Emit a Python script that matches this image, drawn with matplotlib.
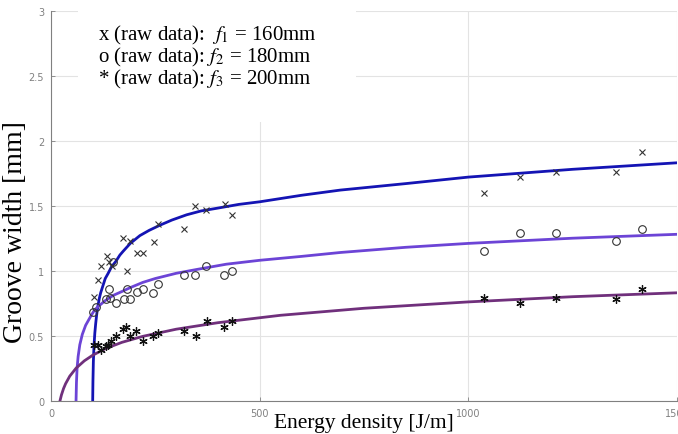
import matplotlib
matplotlib.use("Agg")
import matplotlib.pyplot as plt
from matplotlib.patches import Rectangle

plt.rcParams['mathtext.fontset'] = 'stix'

# raw data, f1 = 160mm (x markers)
x_energy = [104, 112, 121, 133, 140, 147, 173, 181, 189, 205, 220, 247, 257, 319, 345, 371, 417, 434,
            1038, 1124, 1209, 1354, 1415]
x_width = [0.80, 0.93, 1.04, 1.11, 1.07, 1.04, 1.25, 1.00, 1.23, 1.14, 1.14, 1.22, 1.36, 1.32, 1.50, 1.47, 1.51, 1.43,
           1.60, 1.72, 1.76, 1.76, 1.91]

# raw data, f2 = 180mm (o markers)
o_energy = [101, 109, 132, 140, 141, 149, 156, 175, 181, 189, 205, 220, 245, 257, 319, 345, 371, 415, 434,
            1038, 1124, 1209, 1354, 1415]
o_width = [0.68, 0.72, 0.78, 0.86, 0.79, 1.07, 0.75, 0.78, 0.86, 0.78, 0.84, 0.86, 0.83, 0.90, 0.97, 0.97, 1.04, 0.97, 1.00,
           1.15, 1.29, 1.29, 1.23, 1.32]

# raw data, f3 = 200mm (* markers)
s_energy = [104, 112, 120, 132, 137, 143, 155, 173, 180, 189, 204, 220, 245, 257, 319, 347, 373, 415, 434,
            1038, 1124, 1209, 1354, 1415]
s_width = [0.43, 0.43, 0.39, 0.42, 0.43, 0.46, 0.50, 0.55, 0.57, 0.50, 0.54, 0.46, 0.50, 0.52, 0.54, 0.50, 0.61, 0.57, 0.61,
           0.79, 0.75, 0.79, 0.78, 0.86]

# fitted curves, points
fit1_energy = [99.9, 100.5, 101.5, 103, 105, 107, 109, 111, 113, 116, 119, 122, 125, 130, 137, 145, 155, 165, 173, 190,
               213, 235, 261, 290, 325, 360, 397, 450, 500, 600, 693, 850, 1000, 1250, 1500]
fit1_width = [0.0, 0.15, 0.30, 0.42, 0.52, 0.59, 0.65, 0.70, 0.74, 0.79, 0.83, 0.86, 0.89, 0.94, 0.98, 1.03, 1.07, 1.12,
              1.15, 1.21, 1.27, 1.31, 1.35, 1.39, 1.43, 1.46, 1.48, 1.51, 1.53, 1.58, 1.62, 1.67, 1.72, 1.78, 1.83]

fit2_energy = [60, 61, 62.5, 65, 69, 75, 83, 90, 97, 105, 115, 130, 149, 170, 190, 220, 250, 300, 350, 420, 500, 600,
               693, 850, 1000, 1250, 1500]
fit2_width = [0.0, 0.14, 0.25, 0.34, 0.43, 0.51, 0.58, 0.62, 0.66, 0.70, 0.73, 0.77, 0.81, 0.84, 0.87, 0.91, 0.94, 0.98,
              1.01, 1.05, 1.08, 1.11, 1.14, 1.18, 1.21, 1.25, 1.28]

fit3_energy = [21.6, 25, 30, 35, 45, 60, 80, 100, 130, 170, 220, 300, 400, 550, 750, 1000, 1250, 1500]
fit3_width = [0.0, 0.044, 0.093, 0.131, 0.189, 0.25, 0.307, 0.35, 0.40, 0.449, 0.495, 0.55, 0.60, 0.657, 0.711, 0.76, 0.80, 0.83]

fig = plt.figure(figsize=(6.78, 4.35), dpi=100)
ax = fig.add_axes([51 / 678, 1 - 401.7 / 435, 626 / 678, 390 / 435])

ax.plot(fit1_energy, fit1_width, color='#1414b4', lw=2, zorder=3)
ax.plot(fit2_energy, fit2_width, color='#6c44d6', lw=2, zorder=3)
ax.plot(fit3_energy, fit3_width, color='#70307c', lw=2, zorder=3)

ax.plot(x_energy, x_width, 'x', color='#333333', ms=5, mew=0.8, zorder=4)
ax.plot(o_energy, o_width, 'o', mfc='none', mec='#333333', ms=5.5, mew=0.8, zorder=4)
ax.plot(s_energy, s_width, marker=(6, 2, 0), ls='none', color='#111111', ms=6, mew=0.9, zorder=4)

ax.set_xlim(0, 1500)
ax.set_ylim(0, 3)
ax.set_xticks([0, 500, 1000, 1500])
ax.set_yticks([0, 0.5, 1, 1.5, 2, 2.5, 3])
ax.set_yticklabels(['0', '0.5', '1', '1.5', '2', '2.5', '3'])
ax.grid(True, color='#e3e3e3', lw=0.8)
ax.set_axisbelow(True)
ax.tick_params(direction='in', length=3, width=0.6, colors='#808080', labelsize=7, pad=5)
for side in ['top', 'right']:
    ax.spines[side].set_visible(False)
for side in ['left', 'bottom']:
    ax.spines[side].set_color('#808080')
    ax.spines[side].set_linewidth(0.8)

# white box behind the text
ax.add_patch(Rectangle((0.043, 0.715), 0.444, 0.29, transform=ax.transAxes,
                       facecolor='white', edgecolor='none', zorder=1, clip_on=False))

serif = ['Liberation Serif', 'DejaVu Serif']
ax.set_xlabel('Energy density [J/m]', family=serif, fontsize=15.5, labelpad=-3)
ax.set_ylabel('Groove width [mm]', family=serif, fontsize=20)
ax.yaxis.set_label_coords(-0.036, 0.435)

legend_lines = [r'x (raw data):  $f_{\mathit{1}}$ = 160mm',
                r'o (raw data): $f_{\mathit{2}}$ = 180mm',
                r'* (raw data): $f_{\mathit{3}}$ = 200mm']
for i, txt in enumerate(legend_lines):
    fig.text(98 / 678, 1 - (35 + 22 * i) / 435, txt, family=serif, fontsize=15, va='center', ha='left')

fig.savefig('out.png', dpi=100)
